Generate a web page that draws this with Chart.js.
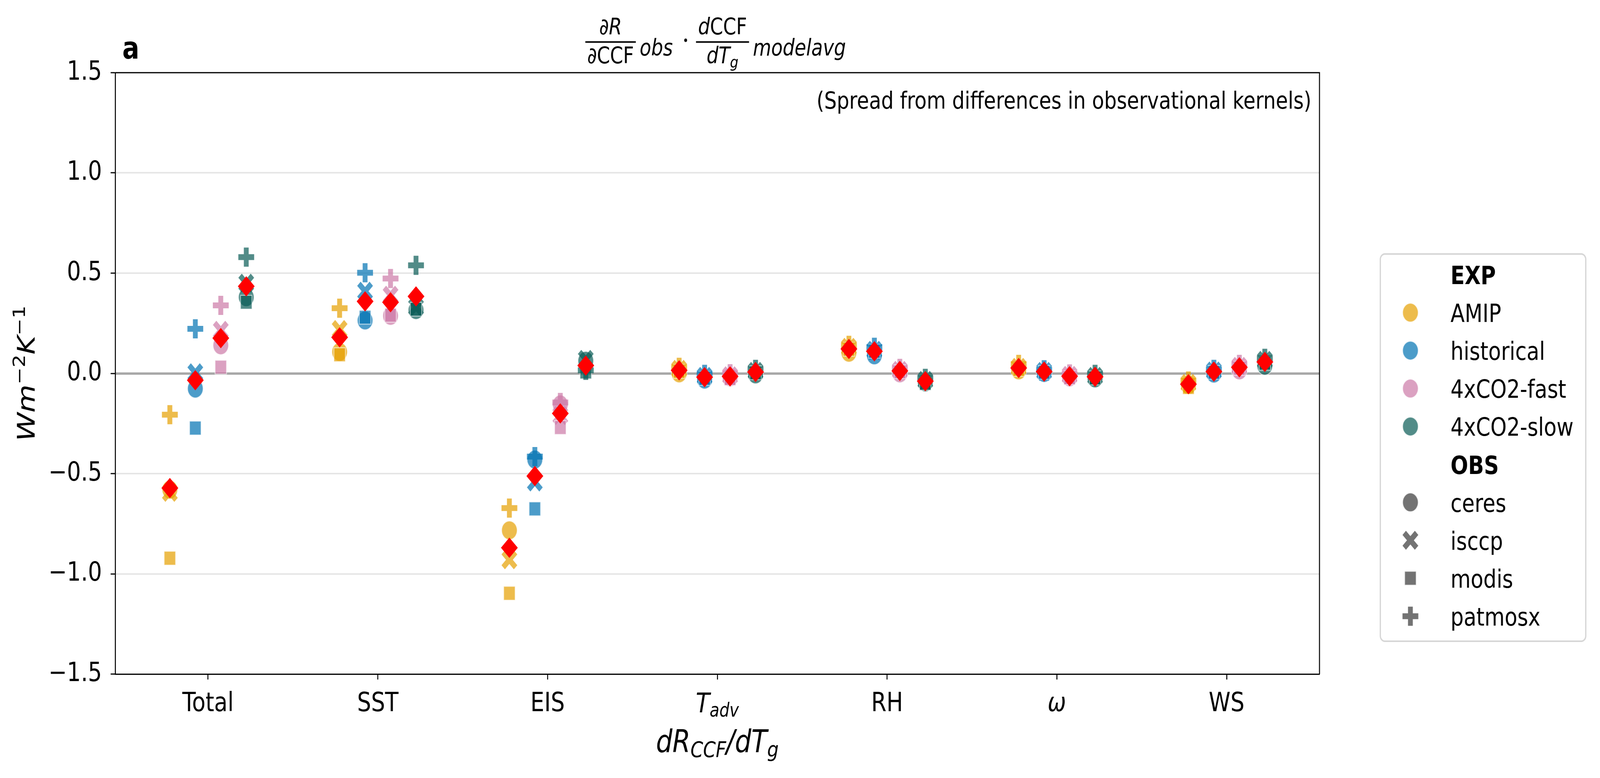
<!DOCTYPE html>
<html>
<head>
<meta charset="utf-8">
<script src="https://cdn.jsdelivr.net/npm/chart.js@4.4.1/dist/chart.umd.min.js"></script>
<style>
  html, body { margin: 0; padding: 0; background: #fff; overflow: hidden; }
  #myChart { display: block; position: absolute; left: 0; top: 0; transform-origin: 0 0; }
</style>
</head>
<body>
<canvas id="myChart" width="4945" height="1991"></canvas>
<script>
'use strict'

// categories on the x axis (index 3 is T_adv, drawn with a subscript)
var categories = ['Total', 'SST', 'EIS', 'T_adv', 'RH', 'ω', 'WS'];
var expNames = ['AMIP', 'historical', '4xCO2-fast', '4xCO2-slow'];
var obsNames = ['ceres', 'isccp', 'modis', 'patmosx'];
var yTicks = [-1.5, -1.0, -0.5, 0.0, 0.5, 1.0, 1.5];

// values, one per category
var amipCeres   = [-0.580, 0.107, -0.783,  0.000,  0.103,  0.015, -0.058];
var amipIsccp   = [-0.594, 0.219, -0.930,  0.020,  0.130,  0.030, -0.050];
var amipModis   = [-0.922, 0.093, -1.097,  0.010,  0.120,  0.020, -0.070];
var amipPatmosx = [-0.206, 0.325, -0.672,  0.030,  0.140,  0.045, -0.038];
var amipMean    = [-0.572, 0.180, -0.870,  0.015,  0.122,  0.027, -0.054];

var histCeres   = [-0.076, 0.264, -0.430, -0.031,  0.090,  0.002, -0.001];
var histIsccp   = [ 0.003, 0.410, -0.542, -0.015,  0.115,  0.010,  0.012];
var histModis   = [-0.273, 0.280, -0.676, -0.025,  0.110,  0.005,  0.005];
var histPatmosx = [ 0.222, 0.502, -0.415, -0.005,  0.130,  0.018,  0.020];
var histMean    = [-0.034, 0.359, -0.512, -0.019,  0.110,  0.009,  0.009];

var fastCeres   = [ 0.140, 0.287, -0.155, -0.020,  0.000, -0.020,  0.015];
var fastIsccp   = [ 0.215, 0.390, -0.210, -0.012,  0.015, -0.010,  0.035];
var fastModis   = [ 0.031, 0.290, -0.270, -0.026,  0.008, -0.022,  0.025];
var fastPatmosx = [ 0.339, 0.473, -0.145, -0.002,  0.025, -0.003,  0.045];
var fastMean    = [ 0.176, 0.355, -0.200, -0.015,  0.012, -0.014,  0.030];

var slowCeres   = [ 0.380, 0.316,  0.063, -0.005, -0.045, -0.025,  0.038];
var slowIsccp   = [ 0.450, 0.330,  0.070,  0.010, -0.035, -0.015,  0.065];
var slowModis   = [ 0.355, 0.320,  0.007,  0.003, -0.050, -0.023,  0.050];
var slowPatmosx = [ 0.580, 0.539,  0.015,  0.020, -0.025, -0.005,  0.075];
var slowMean    = [ 0.434, 0.384,  0.039,  0.007, -0.039, -0.017,  0.057];

var obsValues = [
    [amipCeres, amipIsccp, amipModis, amipPatmosx],
    [histCeres, histIsccp, histModis, histPatmosx],
    [fastCeres, fastIsccp, fastModis, fastPatmosx],
    [slowCeres, slowIsccp, slowModis, slowPatmosx]
];
var meanValues = [amipMean, histMean, fastMean, slowMean];

var FONT = 'DejaVu Sans';
var expColors = ['rgba(230,159,0,0.7)', 'rgba(0,114,178,0.7)',
    'rgba(204,121,167,0.7)', 'rgba(8,91,86,0.7)'];
var grey = 'rgba(55,55,55,0.7)';
var edge = 'rgba(255,255,255,0.6)';
var dodge = [-0.225, -0.075, 0.075, 0.225];
var obsStyles = [
    {style: 'circle', r: 24, bw: 2.5},
    {style: 'crossRot', r: 27, bw: 15},
    {style: 'rect', r: 25, bw: 2.5},
    {style: 'cross', r: 24.5, bw: 15}
];

// the figure is laid out at 4945 x 1991 and stretched onto the window
var canvas = document.getElementById('myChart');
var kx = (window.innerWidth || 4945) / 4945;
var ky = (window.innerHeight || 1991) / 1991;
canvas.style.transform = 'scale(' + kx + ',' + ky + ')';

function points(vals, e) {
    return vals.map(function (v, i) { return {x: i + dodge[e], y: v}; });
}

var datasets = [];
for (var e = 0; e < 4; e++) {
    datasets.push({
        label: expNames[e] + ' mean',
        data: points(meanValues[e], e),
        pointStyle: 'rectRot',
        pointRadius: 26,
        backgroundColor: '#ff0000',
        borderColor: '#ff0000',
        borderWidth: 0,
        order: 0
    });
}
for (var e2 = 0; e2 < 4; e2++) {
    for (var o = 0; o < 4; o++) {
        var st = obsStyles[o];
        var isLine = st.style === 'cross' || st.style === 'crossRot';
        datasets.push({
            label: expNames[e2] + ' ' + obsNames[o],
            data: points(obsValues[e2][o], e2),
            pointStyle: st.style,
            pointRadius: st.r,
            backgroundColor: expColors[e2],
            borderColor: isLine ? expColors[e2] : edge,
            borderWidth: st.bw,
            order: 4 - o
        });
    }
}

function runsWidth(ctx, runs) {
    var w = 0;
    runs.forEach(function (r) { ctx.font = r.f; w += ctx.measureText(r.t).width; });
    return w;
}

function drawRuns(ctx, runs, x, y, align) {
    var w = runsWidth(ctx, runs);
    var px = align === 'center' ? x - w / 2 : (align === 'right' ? x - w : x);
    ctx.textAlign = 'left';
    ctx.textBaseline = 'alphabetic';
    runs.forEach(function (r) {
        ctx.font = r.f;
        ctx.fillText(r.t, px, y + (r.dy || 0));
        px += ctx.measureText(r.t).width;
    });
}

function fnt(style, size) {
    return (style ? style + ' ' : '') + size + 'px ' + FONT;
}

function drawMarker(ctx, style, x, y, r, fill, bw) {
    ctx.save();
    if (style === 'circle') {
        ctx.beginPath();
        ctx.arc(x, y, r, 0, Math.PI * 2);
        ctx.fillStyle = fill;
        ctx.fill();
        ctx.lineWidth = bw;
        ctx.strokeStyle = edge;
        ctx.stroke();
    } else if (style === 'rect') {
        var s = r * Math.SQRT1_2;
        ctx.fillStyle = fill;
        ctx.fillRect(x - s, y - s, 2 * s, 2 * s);
        ctx.lineWidth = bw;
        ctx.strokeStyle = edge;
        ctx.strokeRect(x - s, y - s, 2 * s, 2 * s);
    } else {
        var a = r * Math.SQRT1_2;
        ctx.beginPath();
        if (style === 'crossRot') {
            ctx.moveTo(x - a, y - a); ctx.lineTo(x + a, y + a);
            ctx.moveTo(x + a, y - a); ctx.lineTo(x - a, y + a);
        } else {
            ctx.moveTo(x - r, y); ctx.lineTo(x + r, y);
            ctx.moveTo(x, y - r); ctx.lineTo(x, y + r);
        }
        ctx.lineWidth = bw;
        ctx.strokeStyle = fill;
        ctx.stroke();
    }
    ctx.restore();
}

var decor = {
    id: 'decor',
    afterDraw: function (chart) {
        var ctx = chart.ctx;
        var ca = chart.chartArea;
        var cx = (ca.left + ca.right) / 2;
        var cy = (ca.top + ca.bottom) / 2;
        ctx.save();
        ctx.fillStyle = '#000';

        // top and right spines
        ctx.strokeStyle = '#000';
        ctx.lineWidth = 3;
        ctx.beginPath();
        ctx.moveTo(ca.left, ca.top); ctx.lineTo(ca.right, ca.top); ctx.lineTo(ca.right, ca.bottom);
        ctx.stroke();

        // panel letter
        ctx.font = fnt('bold', 78);
        ctx.textAlign = 'left';
        ctx.textBaseline = 'alphabetic';
        ctx.fillText('a', ca.left + 22, 150);

        // title
        var it = fnt('italic', 58), up = fnt('', 58), sub = fnt('italic', 41);
        ctx.fillRect(cx - 408, 105.5, 156, 4);
        ctx.fillRect(cx - 66, 105.5, 164, 4);
        drawRuns(ctx, [{t: '∂', f: up}, {t: 'R', f: it}], cx - 330, 88, 'center');
        drawRuns(ctx, [{t: '∂CCF', f: up}], cx - 330, 162, 'center');
        drawRuns(ctx, [{t: 'obs', f: it}], cx - 240, 142, 'left');
        ctx.beginPath();
        ctx.arc(cx - 98, 103, 4.5, 0, Math.PI * 2);
        ctx.fill();
        drawRuns(ctx, [{t: 'd', f: it}, {t: 'CCF', f: up}], cx + 16, 88, 'center');
        drawRuns(ctx, [{t: 'dT', f: it}, {t: 'g', f: sub, dy: 11}], cx + 16, 162, 'center');
        drawRuns(ctx, [{t: 'modelavg', f: it}], cx + 110, 142, 'left');

        // note in the upper right corner
        ctx.font = fnt('', 61);
        ctx.textAlign = 'right';
        ctx.fillText('(Spread from differences in observational kernels)', ca.right - 25, 278);

        // T_adv tick label
        var xs = chart.scales.x;
        drawRuns(ctx, [{t: 'T', f: fnt('italic', 70)}, {t: 'adv', f: fnt('italic', 49), dy: 11}],
            xs.getPixelForValue(3), 1823, 'center');

        // x axis title
        var big = fnt('italic', 80), small = fnt('italic', 56);
        drawRuns(ctx, [{t: 'dR', f: big}, {t: 'CCF', f: small, dy: 12}, {t: '/dT', f: big},
            {t: 'g', f: small, dy: 12}], cx, 1925, 'center');

        // y axis title
        ctx.save();
        ctx.translate(107, cy);
        ctx.rotate(-Math.PI / 2);
        var yl = fnt('italic', 74), ys = fnt('', 52);
        drawRuns(ctx, [{t: 'Wm', f: yl}, {t: '−2', f: ys, dy: -30}, {t: 'K', f: yl},
            {t: '−1', f: ys, dy: -30}], 0, 0, 'center');
        ctx.restore();

        // legend
        var lx = ca.right + 188, ly = 650, lw = 635, lh = 991;
        ctx.beginPath();
        ctx.roundRect(lx, ly, lw, lh, 14);
        ctx.fillStyle = 'rgba(255,255,255,0.8)';
        ctx.fill();
        ctx.lineWidth = 4;
        ctx.strokeStyle = '#d6d6d6';
        ctx.stroke();

        var rows = [{t: 'EXP', head: true}];
        expNames.forEach(function (n, i) { rows.push({t: n, style: 'circle', r: 24, bw: 2.5, c: expColors[i]}); });
        rows.push({t: 'OBS', head: true});
        obsNames.forEach(function (n, i) {
            rows.push({t: n, style: obsStyles[i].style, r: obsStyles[i].r, bw: obsStyles[i].bw, c: grey});
        });
        var textX = lx + 217, markX = lx + 93;
        rows.forEach(function (row, i) {
            var base = 727 + i * 97.1;
            ctx.fillStyle = '#000';
            ctx.textAlign = 'left';
            ctx.textBaseline = 'alphabetic';
            ctx.font = fnt(row.head ? 'bold' : '', 64);
            ctx.fillText(row.t, textX, base);
            if (!row.head) {
                drawMarker(ctx, row.style, markX, base - 24, row.r, row.c, row.bw);
            }
        });
        ctx.restore();
    }
};

var ctx = canvas.getContext('2d');

var myChart = new Chart(ctx, {
    type: 'scatter',
    data: { datasets: datasets },
    options: {
        responsive: false,
        devicePixelRatio: 1,
        animation: false,
        events: [],
        layout: { padding: { left: 0, top: 186, right: 867, bottom: 0 } },
        plugins: {
            legend: { display: false },
            tooltip: { enabled: false }
        },
        scales: {
            x: {
                type: 'linear',
                min: -0.547,
                max: 6.547,
                afterBuildTicks: function (s) {
                    s.ticks = categories.map(function (c, i) { return {value: i}; });
                },
                afterFit: function (s) { s.height = 266; },
                grid: {
                    drawOnChartArea: false,
                    drawTicks: true,
                    tickLength: 14,
                    tickWidth: 3,
                    tickColor: '#000'
                },
                border: { display: true, color: '#000', width: 3 },
                ticks: {
                    padding: 23,
                    color: '#000',
                    maxRotation: 0,
                    autoSkip: false,
                    font: function (c) {
                        return {family: FONT, size: 68, style: c.index === 5 ? 'italic' : 'normal'};
                    },
                    callback: function (v, i) { return i === 3 ? '' : categories[i]; }
                }
            },
            y: {
                min: -1.5,
                max: 1.5,
                afterBuildTicks: function (s) {
                    s.ticks = yTicks.map(function (v) { return {value: v}; });
                },
                afterFit: function (s) { s.width = 356; },
                grid: {
                    color: function (c) { return c.tick && c.tick.value === 0 ? '#a8a8a8' : '#e6e6e6'; },
                    lineWidth: function (c) { return c.tick && c.tick.value === 0 ? 6 : 4; },
                    drawTicks: true,
                    tickLength: 14,
                    tickWidth: 3,
                    tickColor: '#000'
                },
                border: { display: true, color: '#000', width: 3 },
                ticks: {
                    padding: 27,
                    color: '#000',
                    font: { family: FONT, size: 68 },
                    callback: function (v) {
                        return (v < 0 ? '−' : '') + Math.abs(v).toFixed(1);
                    }
                }
            }
        }
    },
    plugins: [decor]
});
</script>
</body>
</html>
